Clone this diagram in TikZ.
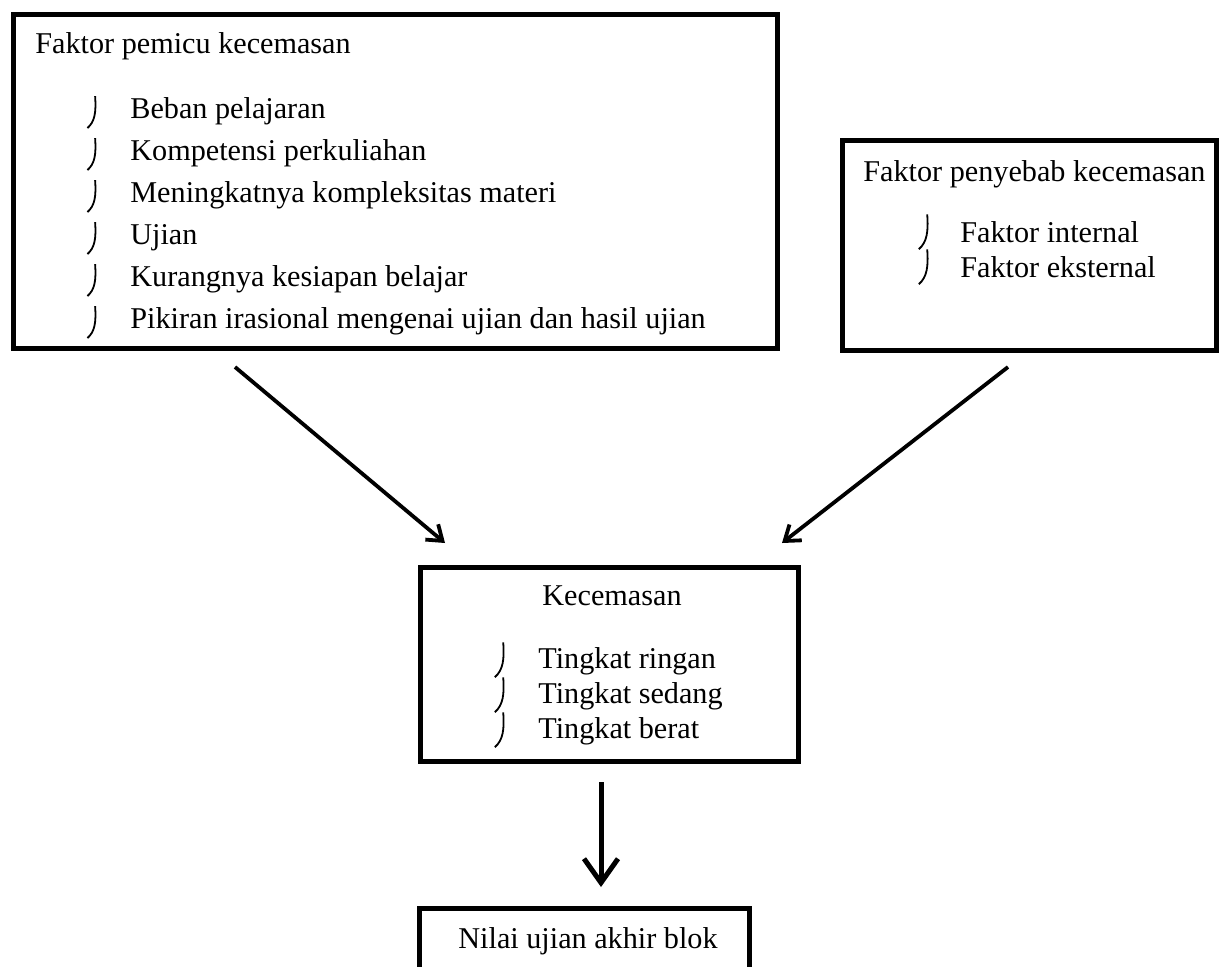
\documentclass[tikz,border=0pt]{standalone}
\usepackage{fontspec}
\setmainfont{Liberation Serif}
\usetikzlibrary{arrows.meta}

\tikzset{
  box/.style={draw, line width=2.5pt, inner sep=0pt, outer sep=0pt, anchor=north west},
  txt/.style={anchor=base west, inner sep=0pt, font=\fontsize{15.1}{18}\selectfont},
  hookmark/.pic={\draw[line width=0.9pt] (1,-18) .. controls (2,-4) and (1,5) .. (-6,11);},
  link/.style={line width=1.9pt, -{Straight Barb[length=7pt,width=10pt]}},
  biglink/.style={line width=2.5pt, -{Straight Barb[length=12pt,width=17pt]}},
}

\begin{document}
\begin{tikzpicture}[x=0.5pt, y=-0.5pt]
  \useasboundingbox (0,0) rectangle (1219,966);

  % boxes
  \node[box, minimum width=381.75pt, minimum height=166.75pt] (pemicu) at (13.5,14.5) {};
  \node[box, minimum width=187pt, minimum height=105pt] (penyebab) at (842,140) {};
  \node[box, minimum width=189pt, minimum height=97pt] (cemas) at (420,567) {};
  \node[box, minimum width=165pt, minimum height=46pt] (nilai) at (419,908) {};

  % faktor pemicu
  \node[txt] (t1) at (35,53) {Faktor pemicu kecemasan};
  \node[txt] (p1) at (130,118) {Beban pelajaran};
  \node[txt] (p2) at (130,160) {Kompetensi perkuliahan};
  \node[txt] (p3) at (130,202) {Meningkatnya kompleksitas materi};
  \node[txt] (p4) at (130,244) {Ujian};
  \node[txt] (p5) at (130,286) {Kurangnya kesiapan belajar};
  \node[txt] (p6) at (130,328) {Pikiran irasional mengenai ujian dan hasil ujian};
  \foreach \y in {118,160,202,244,286,328}
    \pic[scale=1.1] at (94,\y-2) {hookmark};

  % faktor penyebab
  \node[txt] (t2) at (863,181) {Faktor penyebab kecemasan};
  \node[txt] (s1) at (960,242) {Faktor internal};
  \node[txt] (s2) at (960,277) {Faktor eksternal};
  \foreach \y in {242,277}
    \pic[scale=1.2] at (926,\y-6) {hookmark};

  % kecemasan
  \node[txt] (t3) at (542,605) {Kecemasan};
  \node[txt] (k1) at (538,668) {Tingkat ringan};
  \node[txt] (k2) at (538,703) {Tingkat sedang};
  \node[txt] (k3) at (538,738) {Tingkat berat};
  \foreach \y in {668,703,738}
    \pic[scale=1.2] at (502,\y-4) {hookmark};

  \node[txt] (t4) at (458,948) {Nilai ujian akhir blok};

  % arrows
  \coordinate (a1) at (235,367);
  \coordinate (a2) at (445,543);
  \coordinate (b1) at (1008,367);
  \coordinate (b2) at (782,543);
  \coordinate (c1) at (601,782);
  \coordinate (c2) at (601,887);
  \draw[link] (a1) -- (a2);
  \draw[link] (b1) -- (b2);
  \draw[biglink] (c1) -- (c2);
\end{tikzpicture}
\end{document}
